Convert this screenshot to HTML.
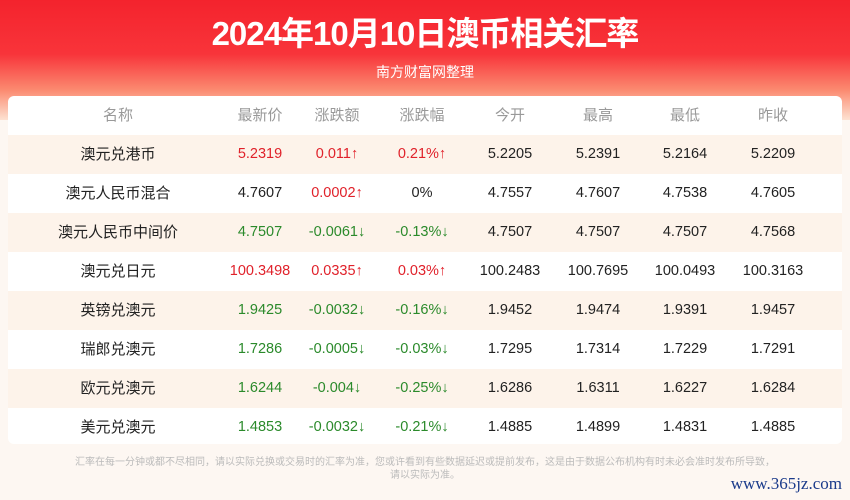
<!DOCTYPE html>
<html><head><meta charset="utf-8"><style>
body{margin:0;width:850px;height:500px;overflow:hidden;font-family:"Liberation Sans","Noto Sans CJK SC",sans-serif;background:#fdf7f2;position:relative}
.hdr{position:absolute;left:0;top:0;width:850px;height:120px;background:linear-gradient(#f4232d 0%,#f8343a 45%,#fb8a70 75%,#fde2d2 100%)}
.title{position:absolute;top:7px;width:850px;text-align:center;color:#fff;font-size:33px;font-weight:bold;letter-spacing:-1px}
.sub{position:absolute;top:62px;width:850px;text-align:center;color:#fff;font-size:14px}
.card{position:absolute;left:8px;top:96px;width:834px;height:348px;background:#fff;border-radius:6px;overflow:hidden}
.row{position:absolute;left:0;width:834px;height:39px}
.row.alt{background:#fdf3ea}
.c{position:absolute;top:0;height:39px;line-height:39px;font-size:14.5px;color:#222;transform:translateX(-50%);white-space:nowrap}
.h .c{color:#999;font-size:15px}
.nm{font-size:15px}
.r{color:#e0212a}.g{color:#2b8a2b}
.foot{position:absolute;top:456px;width:850px;text-align:center;color:#bbb;font-size:10px;line-height:13px}
.wm{position:absolute;right:8px;top:474px;color:#1a3a8a;font-family:"Liberation Serif",serif;font-size:17px}
</style></head><body>
<div class="hdr"></div>
<div class="title">2024年10月10日澳币相关汇率</div>
<div class="sub">南方财富网整理</div>
<div class="card" id="card"></div>
<div class="foot">汇率在每一分钟或都不尽相同，请以实际兑换或交易时的汇率为准，您或许看到有些数据延迟或提前发布，这是由于数据公布机构有时未必会准时发布所导致，<br>请以实际为准。</div>
<div class="wm">www.365jz.com</div>
<script>
const headers=["名称","最新价","涨跌额","涨跌幅","今开","最高","最低","昨收"];
const names=["澳元兑港币","澳元人民币混合","澳元人民币中间价","澳元兑日元","英镑兑澳元","瑞郎兑澳元","欧元兑澳元","美元兑澳元"];
const latest=["5.2319","4.7607","4.7507","100.3498","1.9425","1.7286","1.6244","1.4853"];
const change=["0.011","0.0002","-0.0061","0.0335","-0.0032","-0.0005","-0.004","-0.0032"];
const pct=["0.21%","0%","-0.13%","0.03%","-0.16%","-0.03%","-0.25%","-0.21%"];
const open=["5.2205","4.7557","4.7507","100.2483","1.9452","1.7295","1.6286","1.4885"];
const high=["5.2391","4.7607","4.7507","100.7695","1.9474","1.7314","1.6311","1.4899"];
const low=["5.2164","4.7538","4.7507","100.0493","1.9391","1.7229","1.6227","1.4831"];
const prev=["5.2209","4.7605","4.7568","100.3163","1.9457","1.7291","1.6284","1.4885"];
const xs=[110,252,329,414,502,590,677,765];
const card=document.getElementById('card');
function mk(parent,txt,x,cls){const d=document.createElement('div');d.className='c '+(cls||'');d.style.left=x+'px';d.textContent=txt;parent.appendChild(d);return d;}
const h=document.createElement('div');h.className='row h';h.style.top='0px';


headers.forEach((t,i)=>mk(h,t,xs[i]));card.appendChild(h);
names.forEach((n,i)=>{
 const r=document.createElement('div');r.className='row'+(i%2==0?' alt':'');r.style.top=(39+i*39)+'px';
 
 
 const v=parseFloat(change[i]);const cl=v>0?'r':(v<0?'g':'');const ar=v>0?'↑':(v<0?'↓':'');
 const pv=parseFloat(pct[i]);const pcl=pv>0?'r':(pv<0?'g':'');const par=pv>0?'↑':(pv<0?'↓':'');
 mk(r,n,xs[0],'nm');mk(r,latest[i],xs[1],pcl);mk(r,change[i]+ar,xs[2],cl);mk(r,pct[i]+par,xs[3],pcl);
 mk(r,open[i],xs[4]);mk(r,high[i],xs[5]);mk(r,low[i],xs[6]);mk(r,prev[i],xs[7]);
 card.appendChild(r);
});
</script>
</body></html>
